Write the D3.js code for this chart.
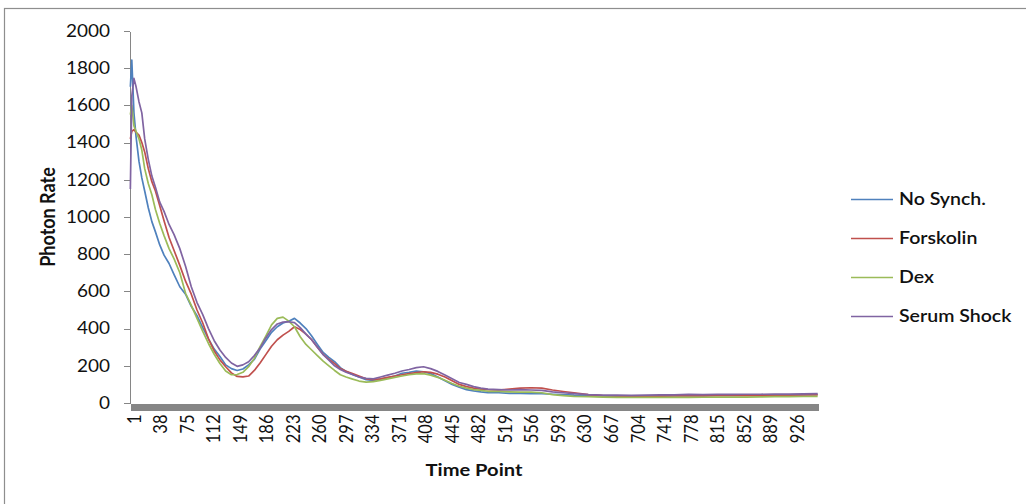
<!DOCTYPE html>
<html>
<head>
    <title>Photon Rate</title>
    <script src="https://d3js.org/d3.v7.min.js"></script>
    <style>
        body { margin: 0; background: #fff; }
        text { font-family: Lato, "Open Sans", sans-serif; fill: #111; }
        .axis path, .axis line { fill: none; stroke: #868686; shape-rendering: crispEdges; }
        .line { fill: none; stroke-width: 1.7px; stroke-linejoin: round; }
    </style>
</head>
<body>
    <script>
        // Data
        var timePoints = [
            1, 3, 6, 9, 13, 17, 21, 26, 31, 36,
            42, 48, 55, 62, 70, 78, 86, 94, 102, 110,
            118, 126, 134, 142, 150, 158, 166, 174, 182, 190,
            198, 206, 214, 222, 230, 238, 246, 254, 262, 270,
            278, 286, 294, 302, 310, 320, 330, 340, 350, 360,
            370, 380, 390, 400, 410, 420, 430, 440, 450, 460,
            470, 480, 490, 500, 515, 530, 545, 560, 575, 590,
            605, 620, 640, 660, 680, 700, 720, 740, 760, 780,
            800, 820, 840, 860, 880, 900, 920, 940, 960
        ];
        var noSynch = [
            1700, 1844, 1560, 1430, 1300, 1210, 1140, 1050, 975, 920,
            850, 795, 750, 690, 625, 585, 520, 470, 405, 345,
            290, 250, 205, 185, 175, 183, 205, 235, 290, 335,
            380, 410, 430, 440, 455, 430, 400, 360, 315, 272,
            245, 222, 190, 170, 155, 140, 125, 122, 128, 135,
            145, 160, 165, 172, 168, 158, 140, 120, 100, 85,
            72, 65, 60, 56, 55, 52, 52, 50, 50, 47,
            45, 42, 40, 38, 37, 36, 37, 38, 40, 40,
            40, 42, 42, 43, 42, 44, 44, 45, 46
        ];
        var forskolin = [
            1420, 1460, 1470, 1455, 1440, 1400, 1350, 1260, 1190, 1140,
            1060, 980, 890, 820, 740, 655, 585, 500, 430, 345,
            280, 232, 195, 162, 143, 140, 145, 175, 215, 260,
            305, 340, 365, 385, 410, 395, 370, 340, 300, 262,
            235, 212, 185, 170, 160, 145, 130, 125, 130, 138,
            145, 152, 158, 163, 168, 165, 155, 140, 120, 100,
            88, 80, 75, 72, 70, 75, 80, 82, 80, 70,
            62, 55, 45, 40, 38, 36, 36, 37, 38, 38,
            38, 40, 40, 40, 40, 42, 42, 43, 44
        ];
        var dex = [
            1550, 1600, 1490, 1460, 1420, 1360, 1260, 1180, 1120, 1040,
            965, 900, 830, 775, 700, 590, 525, 455, 385, 320,
            262, 212, 172, 152, 153, 165, 195, 240, 303, 360,
            420, 455, 462, 440, 410, 356, 315, 285, 255, 225,
            200, 175, 152, 140, 130, 118, 112, 115, 122, 130,
            138, 145, 152, 157, 158, 150, 138, 122, 105, 90,
            80, 72, 68, 63, 62, 60, 58, 58, 55, 45,
            40, 36, 34, 32, 30, 30, 30, 30, 31, 30,
            31, 32, 32, 32, 33, 34, 34, 35, 36
        ];
        var serumShock = [
            1150, 1650, 1745, 1700, 1620, 1560, 1420, 1310, 1220, 1160,
            1080, 1030, 960, 905, 830, 735, 625, 540, 475, 400,
            335, 285, 245, 215, 197, 205, 222, 255, 295, 350,
            395, 425, 435, 437, 432, 405, 370, 340, 300, 260,
            230, 200, 180, 165, 155, 140, 132, 130, 140, 150,
            160, 172, 180, 190, 195, 185, 170, 150, 130, 110,
            100, 88, 80, 75, 72, 70, 72, 70, 68, 60,
            55, 50, 45, 42, 42, 41, 42, 44, 44, 46,
            45, 46, 46, 47, 47, 48, 48, 49, 50
        ];
        var seriesNames = ["No Synch.", "Forskolin", "Dex", "Serum Shock"];
        var seriesColors = ["#4f81bd", "#c0504d", "#9bbb59", "#8064a2"];
        var yTicks = [0, 200, 400, 600, 800, 1000, 1200, 1400, 1600, 1800, 2000];
        var xTickLabels = [1, 38, 75, 112, 149, 186, 223, 260, 297, 334, 371, 408, 445,
            482, 519, 556, 593, 630, 667, 704, 741, 778, 815, 852, 889, 926];
        var pointCount = 960;

        var allSeries = [noSynch, forskolin, dex, serumShock];

        // text in the picture is a little stretched sideways
        var sx = 1.15;

        var svg = d3.select("body").append("svg")
            .attr("width", 1026)
            .attr("height", 504);

        // outer frame
        svg.append("rect")
            .attr("x", 4.5).attr("y", 8.5)
            .attr("width", 1040).attr("height", 520)
            .attr("fill", "none")
            .attr("stroke", "#8e8e8e")
            .attr("stroke-width", 1.2);

        // scales
        var x = d3.scaleLinear().domain([0.5, pointCount + 0.5]).range([130, 818]);
        var y = d3.scaleLinear().domain([0, 2000]).range([403, 31]);

        // Y axis
        var yAxis = svg.append("g")
            .attr("class", "axis")
            .attr("transform", "translate(130,0)")
            .call(d3.axisLeft(y).tickValues(yTicks).tickFormat(d3.format("d"))
                .tickSize(6).tickSizeOuter(0));
        yAxis.selectAll("text")
            .attr("x", 0)
            .attr("transform", "translate(-20,0) scale(" + sx + ",1)")
            .style("font-size", "16.5px")
            .style("font-family", "Lato, sans-serif")
            .attr("fill", "#111");

        // X axis (thick grey bar)
        var xAxis = svg.append("g")
            .attr("class", "axis")
            .attr("transform", "translate(0,406.5)")
            .call(d3.axisBottom(x).tickValues(xTickLabels).tickSize(0).tickSizeOuter(0));
        xAxis.select(".domain")
            .attr("stroke", "#8c8c8c")
            .attr("stroke-width", 7);
        xAxis.selectAll("text")
            .attr("x", 0).attr("y", 0).attr("dy", "0.36em")
            .attr("text-anchor", "end")
            .attr("transform", "translate(3,8) scale(" + sx + ",1) rotate(-90)")
            .style("font-size", "16.5px")
            .style("font-family", "Lato, sans-serif")
            .attr("fill", "#111");

        // lines
        var line = d3.line()
            .x(function(d, i) { return x(timePoints[i]); })
            .y(function(d) { return y(d); });

        svg.selectAll(".line")
            .data(allSeries)
            .enter().append("path")
            .attr("class", "line")
            .attr("stroke", function(d, i) { return seriesColors[i]; })
            .attr("d", line);

        // axis titles
        svg.append("text")
            .attr("transform", "translate(48,217) scale(" + sx + ",1) rotate(-90)")
            .attr("text-anchor", "middle")
            .attr("dy", "0.35em")
            .style("font-size", "18px")
            .style("font-weight", "bold")
            .text("Photon Rate");

        svg.append("text")
            .attr("transform", "translate(474,476) scale(" + sx + ",1)")
            .attr("text-anchor", "middle")
            .style("font-size", "17.5px")
            .style("font-weight", "bold")
            .text("Time Point");

        // legend
        var legend = svg.selectAll(".legend")
            .data(seriesNames)
            .enter().append("g")
            .attr("class", "legend")
            .attr("transform", function(d, i) { return "translate(851," + (199.5 + i * 39) + ")"; });

        legend.append("line")
            .attr("x1", 0).attr("x2", 42)
            .attr("stroke", function(d, i) { return seriesColors[i]; })
            .attr("stroke-width", 1.5);

        legend.append("text")
            .attr("transform", "translate(48,0) scale(" + sx + ",1)")
            .attr("dy", "0.35em")
            .style("font-size", "17px")
            .style("font-weight", "600")
            .text(function(d) { return d; });
    </script>
</body>
</html>
